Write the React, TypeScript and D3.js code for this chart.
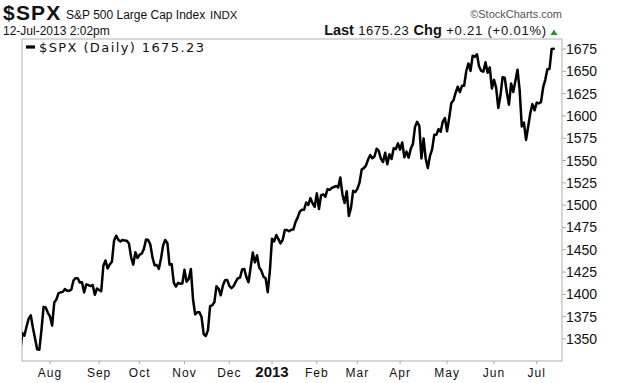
import React from "react";
import * as d3 from "d3";

// Trading-day calendar (month, days) and daily closes of $SPX
const months = ["2012-07", "2012-08", "2012-09", "2012-10", "2012-11", "2012-12", "2013-01", "2013-02", "2013-03", "2013-04", "2013-05", "2013-06", "2013-07"];

const days: number[][] = [
  [12, 13, 16, 17, 18, 19, 20, 23, 24, 25, 26, 27, 30, 31],
  [1, 2, 3, 6, 7, 8, 9, 10, 13, 14, 15, 16, 17, 20, 21, 22, 23, 24, 27, 28, 29, 30, 31],
  [4, 5, 6, 7, 10, 11, 12, 13, 14, 17, 18, 19, 20, 21, 24, 25, 26, 27, 28],
  [1, 2, 3, 4, 5, 8, 9, 10, 11, 12, 15, 16, 17, 18, 19, 22, 23, 24, 25, 26, 31],
  [1, 2, 5, 6, 7, 8, 9, 12, 13, 14, 15, 16, 19, 20, 21, 23, 26, 27, 28, 29, 30],
  [3, 4, 5, 6, 7, 10, 11, 12, 13, 14, 17, 18, 19, 20, 21, 24, 26, 27, 28, 31],
  [2, 3, 4, 7, 8, 9, 10, 11, 14, 15, 16, 17, 18, 22, 23, 24, 25, 28, 29, 30, 31],
  [1, 4, 5, 6, 7, 8, 11, 12, 13, 14, 15, 19, 20, 21, 22, 25, 26, 27, 28],
  [1, 4, 5, 6, 7, 8, 11, 12, 13, 14, 15, 18, 19, 20, 21, 22, 25, 26, 27, 28],
  [1, 2, 3, 4, 5, 8, 9, 10, 11, 12, 15, 16, 17, 18, 19, 22, 23, 24, 25, 26, 29, 30],
  [1, 2, 3, 6, 7, 8, 9, 10, 13, 14, 15, 16, 17, 20, 21, 22, 23, 24, 28, 29, 30, 31],
  [3, 4, 5, 6, 7, 10, 11, 12, 13, 14, 17, 18, 19, 20, 21, 24, 25, 26, 27, 28],
  [1, 2, 3, 5, 8, 9, 10, 11, 12],
];

const closesJul12 = [1334.76, 1356.78, 1353.64, 1363.67, 1372.78, 1376.51, 1362.66, 1350.52, 1338.31, 1337.89, 1360.02, 1385.97, 1385.30, 1379.32];
const closesAug12 = [1375.32, 1365.00, 1390.99, 1394.23, 1401.35, 1402.22, 1402.80, 1405.87, 1404.11, 1403.93, 1405.53, 1415.51, 1418.16, 1418.13, 1413.17, 1413.49, 1402.08, 1411.13, 1410.44, 1409.30, 1410.49, 1399.48, 1406.58];
const closesSep12 = [1404.94, 1403.44, 1432.12, 1437.92, 1429.08, 1433.56, 1436.56, 1459.99, 1465.77, 1461.19, 1459.32, 1461.05, 1460.26, 1460.15, 1456.89, 1441.59, 1433.32, 1447.15, 1440.67];
const closesOct12 = [1444.49, 1445.75, 1450.99, 1461.40, 1460.93, 1455.88, 1441.48, 1432.56, 1432.84, 1428.59, 1440.13, 1454.92, 1460.91, 1457.34, 1433.19, 1433.82, 1413.11, 1408.75, 1412.97, 1411.94, 1412.16];
const closesNov12 = [1427.59, 1414.20, 1417.26, 1428.39, 1394.53, 1377.51, 1379.85, 1380.03, 1374.53, 1355.49, 1353.33, 1359.88, 1386.89, 1387.81, 1391.03, 1409.15, 1406.29, 1398.94, 1409.93, 1415.95, 1416.18];
const closesDec12 = [1409.46, 1407.05, 1409.28, 1413.94, 1418.07, 1418.55, 1427.84, 1428.48, 1419.45, 1413.58, 1430.36, 1446.79, 1435.81, 1443.69, 1430.15, 1426.66, 1419.83, 1418.10, 1402.43, 1426.19];
const closesJan13 = [1462.42, 1459.37, 1466.47, 1461.89, 1457.15, 1461.02, 1472.12, 1472.05, 1470.68, 1472.34, 1472.63, 1480.94, 1485.98, 1492.56, 1494.81, 1494.82, 1502.96, 1500.18, 1507.84, 1501.96, 1498.11];
const closesFeb13 = [1513.17, 1495.71, 1511.29, 1512.12, 1509.39, 1517.93, 1517.01, 1519.43, 1520.33, 1521.38, 1519.79, 1530.94, 1511.95, 1502.42, 1515.60, 1487.85, 1496.94, 1515.99, 1514.68];
const closesMar13 = [1518.20, 1525.20, 1539.79, 1541.46, 1544.26, 1551.18, 1556.22, 1552.48, 1554.52, 1563.23, 1560.70, 1552.10, 1548.34, 1558.71, 1545.80, 1556.89, 1551.69, 1563.77, 1562.85, 1569.19];
const closesApr13 = [1562.17, 1570.25, 1553.69, 1559.98, 1553.28, 1563.07, 1568.61, 1587.73, 1593.37, 1588.85, 1552.36, 1574.57, 1552.01, 1541.61, 1555.25, 1562.50, 1578.78, 1578.79, 1585.16, 1582.24, 1593.61, 1597.57];
const closesMay13 = [1582.70, 1597.59, 1614.42, 1617.50, 1625.96, 1632.69, 1626.67, 1633.70, 1633.77, 1650.34, 1658.78, 1650.47, 1667.47, 1666.29, 1669.16, 1655.35, 1650.51, 1649.60, 1660.06, 1648.36, 1654.41, 1630.74];
const closesJun13 = [1640.42, 1631.38, 1608.90, 1622.56, 1643.38, 1642.81, 1626.13, 1612.52, 1636.36, 1626.73, 1639.04, 1651.81, 1628.93, 1588.19, 1592.43, 1573.09, 1588.03, 1603.26, 1613.20, 1606.28];
const closesJul13 = [1614.96, 1614.08, 1615.41, 1631.89, 1640.46, 1652.32, 1652.62, 1675.02, 1675.23];

const monthlyCloses = [closesJul12, closesAug12, closesSep12, closesOct12, closesNov12, closesDec12, closesJan13, closesFeb13, closesMar13, closesApr13, closesMay13, closesJun13, closesJul13];

const xTickLabels = ["Aug", "Sep", "Oct", "Nov", "Dec", "2013", "Feb", "Mar", "Apr", "May", "Jun", "Jul"];
const yTicks = [1350, 1375, 1400, 1425, 1450, 1475, 1500, 1525, 1550, 1575, 1600, 1625, 1650, 1675];

type Pt = { month: number; day: number; close: number; i: number };
const points: Pt[] = [];
monthlyCloses.forEach((arr, m) => {
  arr.forEach((c, k) => points.push({ month: m, day: days[m][k], close: c, i: points.length }));
});
// first trading day of each month from Aug 2012
const monthStarts = months.slice(1).map((_, j) => points.find((p) => p.month === j + 1)!.i);

const W = 620, H = 383;
const L = 22, R = 562, T = 39, B = 361;
const SANS = "'Liberation Sans', Arial, sans-serif";

export default function App() {
  const x = d3.scaleLinear().domain([0, points.length - 1]).range([20.1, 553.8]);
  const y = d3.scaleLinear().domain([1325.3, 1686.2]).range([B, T]);
  const line = d3.line<Pt>().x((d) => x(d.i)).y((d) => y(d.close)).curve(d3.curveLinear);

  return (
    <svg width={W} height={H} style={{ position: "absolute", left: 0, top: 0, background: "#fff" }}>
      <defs>
        <clipPath id="plot">
          <rect x={L} y={T} width={R - L} height={B - T} />
        </clipPath>
      </defs>
      <rect x={0} y={0} width={W} height={H} fill="#fff" />

      {/* header */}
      <text x={3} y={20} fontFamily={SANS} fontSize={21} fontWeight="bold" letterSpacing={1.2} fill="#111">$SPX</text>
      <text x={66} y={19} fontFamily={SANS} fontSize={12} fill="#111">S&amp;P 500 Large Cap Index</text>
      <text x={210} y={19} fontFamily={SANS} fontSize={11.5} fill="#111">INDX</text>
      <text x={562} y={18} fontFamily={SANS} fontSize={11} fill="#555" textAnchor="end">©StockCharts.com</text>
      <text x={3} y={35} fontFamily={SANS} fontSize={12} fill="#111">12-Jul-2013 2:02pm</text>
      <text x={547} y={35} fontFamily={SANS} fontSize={13} fill="#111" textAnchor="end">
        <tspan fontWeight="bold" fontSize={14.5}>Last</tspan>
        <tspan letterSpacing={0.6}> 1675.23 </tspan>
        <tspan fontWeight="bold" fontSize={14.5}> Chg</tspan>
        <tspan letterSpacing={0.8}> +0.21 (+0.01%)</tspan>
      </text>
      <path d="M550.5,35 L557.5,35 L554,29.5 Z" fill="#2e8b3a" />

      {/* frame */}
      <rect x={L} y={T} width={R - L} height={B - T} fill="none" stroke="#c4c4c4" strokeWidth={1.3} />

      {/* legend */}
      <line x1={26} x2={35} y1={47} y2={47} stroke="#000" strokeWidth={3.2} />
      <text x={39} y={51.5} fontFamily="'DejaVu Sans', Verdana, sans-serif" fontSize={13} letterSpacing={1.4} fill="#111">$SPX (Daily) 1675.23</text>

      {/* y axis */}
      {yTicks.map((t) => (
        <g key={t}>
          <line x1={R} x2={R + 4} y1={y(t)} y2={y(t)} stroke="#aaa" />
          <text x={566} y={y(t) + 5} fontFamily={SANS} fontSize={14} fill="#111">{t}</text>
        </g>
      ))}

      {/* x axis */}
      {monthStarts.map((idx, j) => (
        <g key={j}>
          <line x1={x(idx)} x2={x(idx)} y1={B} y2={B + 3} stroke="#aaa" />
          <text
            x={x(idx)}
            y={377}
            textAnchor="middle"
            fontFamily={SANS}
            fontSize={xTickLabels[j] === "2013" ? 15 : 12}
            fontWeight={xTickLabels[j] === "2013" ? "bold" : "normal"}
            letterSpacing={xTickLabels[j] === "2013" ? 0 : 1}
            fill="#111"
          >
            {xTickLabels[j]}
          </text>
        </g>
      ))}

      {/* price line */}
      <g clipPath="url(#plot)">
        <path d={line(points) ?? ""} fill="none" stroke="#000" strokeWidth={2.5} strokeLinejoin="round" strokeLinecap="round" />
      </g>
    </svg>
  );
}
